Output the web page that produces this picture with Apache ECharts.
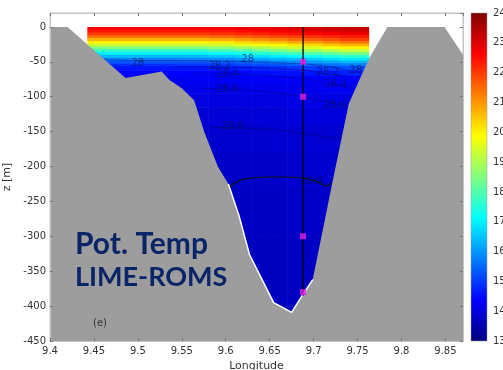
<!DOCTYPE html>
<html>
<head>
<meta charset="utf-8">
<script src="https://cdn.jsdelivr.net/npm/echarts@6/dist/echarts.min.js"></script>
<style>
  html, body { margin: 0; padding: 0; background: #fff; }
  #chart { width: 503px; height: 370px; }
</style>
</head>
<body>
<div id="chart"></div>
<script>
// temperature cells: column edges (longitude) and row edges (depth)
var lonEdges = [9.4425, 9.58, 9.61, 9.63, 9.65, 9.67, 9.69, 9.71, 9.73, 9.7625];
var zEdges = [0, -4, -8, -12, -16, -20, -24, -28, -32, -36, -40, -44, -48, -52, -56, -62, -70, -80, -95, -115, -140, -180, -230, -300, -420];
// pot. temperature per row (top to bottom), one value per column
var tempRows = [
  [22.7, 22.75, 22.8, 22.9, 22.95, 23.05, 23.1, 23.2, 23.3],
  [22.4, 22.45, 22.55, 22.6, 22.7, 22.8, 22.9, 23.0, 23.05],
  [22.0, 22.05, 22.15, 22.25, 22.35, 22.45, 22.55, 22.65, 22.75],
  [21.4, 21.5, 21.6, 21.7, 21.85, 21.95, 22.1, 22.2, 22.35],
  [20.7, 20.8, 20.95, 21.1, 21.25, 21.45, 21.6, 21.75, 21.95],
  [20.0, 20.1, 20.3, 20.45, 20.6, 20.8, 20.95, 21.15, 21.35],
  [19.3, 19.4, 19.6, 19.75, 19.9, 20.1, 20.25, 20.45, 20.65],
  [18.5, 18.6, 18.8, 19.0, 19.15, 19.35, 19.5, 19.75, 19.95],
  [17.7, 17.85, 18.0, 18.2, 18.4, 18.6, 18.8, 19.0, 19.25],
  [17.0, 17.1, 17.3, 17.5, 17.65, 17.85, 18.0, 18.25, 18.45],
  [16.4, 16.5, 16.65, 16.8, 16.95, 17.1, 17.3, 17.45, 17.65],
  [15.8, 15.9, 16.05, 16.2, 16.35, 16.45, 16.6, 16.8, 16.95],
  [15.3, 15.4, 15.5, 15.65, 15.8, 15.9, 16.05, 16.2, 16.35],
  [14.9, 15.0, 15.1, 15.2, 15.3, 15.4, 15.5, 15.65, 15.75],
  [14.6, 14.65, 14.7, 14.8, 14.85, 14.95, 15.0, 15.1, 15.2],
  [14.4, 14.4, 14.45, 14.5, 14.55, 14.55, 14.6, 14.65, 14.7],
  [14.25, 14.25, 14.3, 14.3, 14.3, 14.35, 14.35, 14.35, 14.4],
  [14.15, 14.15, 14.15, 14.2, 14.2, 14.2, 14.2, 14.25, 14.25],
  [14.05, 14.05, 14.05, 14.05, 14.05, 14.1, 14.1, 14.1, 14.1],
  [13.95, 13.95, 13.95, 13.95, 13.95, 14.0, 14.0, 14.0, 14.0],
  [13.85, 13.85, 13.85, 13.85, 13.9, 13.9, 13.9, 13.9, 13.9],
  [13.8, 13.8, 13.8, 13.8, 13.8, 13.85, 13.85, 13.85, 13.85],
  [13.75, 13.75, 13.75, 13.75, 13.75, 13.8, 13.8, 13.8, 13.8],
  [13.7, 13.7, 13.7, 13.7, 13.7, 13.75, 13.75, 13.75, 13.75]
];

// bathymetry
var bathyLon = [9.4, 9.42, 9.486, 9.527, 9.536, 9.55, 9.564, 9.576, 9.591, 9.603, 9.615, 9.627, 9.6545, 9.675, 9.6875, 9.699, 9.722, 9.74, 9.752, 9.764, 9.784, 9.849, 9.87];
var bathyZ = [0, 0, -73, -64, -76, -88, -105, -152, -200, -225, -270, -326, -395, -409, -384, -362, -219, -110, -76, -43, 0, 0, -40];
// white rim along the deep part of the trough
var rimLon = [9.603, 9.615, 9.627, 9.6545, 9.675, 9.6875, 9.699];
var rimZ = [-225, -270, -326, -395, -409, -384, -362];

// density contours
var c28 = [[9.45, -46], [9.5, -48], [9.55, -48], [9.6, -49], [9.65, -51], [9.69, -53], [9.72, -57], [9.745, -63], [9.757, -58]];
var c282 = [[9.54, -57], [9.58, -57], [9.62, -58], [9.66, -60], [9.69, -62], [9.72, -68], [9.745, -72]];
var c284 = [[9.56, -67], [9.6, -67], [9.64, -69], [9.68, -73], [9.71, -79], [9.735, -86], [9.745, -88]];
var c286 = [[9.575, -88], [9.6, -89], [9.64, -92], [9.68, -98], [9.71, -106], [9.74, -114]];
var c288 = [[9.585, -144], [9.62, -145], [9.66, -148], [9.7, -155], [9.73, -160]];
var c289 = [[9.603, -232], [9.612, -222], [9.625, -217], [9.66, -215], [9.69, -217], [9.705, -222], [9.714, -228], [9.72, -224]];
var contourLabels = [
  [9.5, -52, '28'], [9.625, -46, '28'], [9.593, -56, '28.2'], [9.602, -68, '28.4'],
  [9.602, -90, '28.6'], [9.608, -143, '28.8'], [9.716, -65, '28.2'], [9.748, -62, '28'],
  [9.725, -83, '28.4'], [9.724, -112, '28.6'], [9.698, -222, '28.9']
];

// station
var stationLon = 9.688;
var stationBottom = -385;
var stationDepths = [-50, -100, -300, -380];

var tempMin = 13, tempMax = 24;
var jet = ['#00007f', '#0000ff', '#007fff', '#00ffff', '#7fff7f', '#ffff00', '#ff7f00', '#ff0000', '#7f0000'];

var cells = [];
for (var r = 0; r < tempRows.length; r++) {
  for (var c = 0; c < tempRows[r].length; c++) {
    cells.push([(lonEdges[c] + lonEdges[c + 1]) / 2, (zEdges[r] + zEdges[r + 1]) / 2, tempRows[r][c], c, r]);
  }
}

var chart = echarts.init(document.getElementById('chart'));
var font = 'DejaVu Sans';
var tickColor = '#777';
var frameColor = '#c4c4c4';

var mainAxisX = {
  type: 'value', gridIndex: 0, min: 9.4, max: 9.87, interval: 0.05, z: 5,
  axisLine: { show: true, onZero: false, lineStyle: { color: frameColor } },
  axisTick: { inside: true, length: 3, lineStyle: { color: tickColor } },
  splitLine: { show: false }
};

chart.setOption({
  animation: false,
  grid: [
    { left: 50, right: 40, top: 13, bottom: 29, show: true, borderColor: frameColor, borderWidth: 1, outerBoundsMode: 'none' },
    { left: 471, width: 16, top: 13, bottom: 29, outerBoundsMode: 'none' }
  ],
  xAxis: [
    Object.assign({}, mainAxisX, {
      name: 'Longitude', nameLocation: 'middle', nameGap: 15,
      nameTextStyle: { fontFamily: font, fontSize: 11, color: '#333' },
      axisLabel: { fontFamily: font, fontSize: 10, color: '#333', margin: 5, showMaxLabel: false }
    }),
    Object.assign({}, mainAxisX, { position: 'top', axisLabel: { show: false } }),
    { type: 'value', gridIndex: 1, min: 0, max: 1, show: false }
  ],
  yAxis: [
    {
      type: 'value', gridIndex: 0, min: -450, max: 20, interval: 50, z: 5,
      name: 'z [m]', nameLocation: 'middle', nameGap: 33,
      nameTextStyle: { fontFamily: font, fontSize: 11, color: '#333' },
      axisLine: { show: true, onZero: false, lineStyle: { color: frameColor } },
      axisTick: { inside: true, length: 3, lineStyle: { color: tickColor } },
      axisLabel: { fontFamily: font, fontSize: 10, color: '#333', margin: 4, showMaxLabel: false },
      splitLine: { show: false }
    },
    {
      type: 'value', gridIndex: 0, min: -450, max: 20, interval: 50, z: 5, position: 'right',
      axisLine: { show: true, onZero: false, lineStyle: { color: frameColor } },
      axisTick: { inside: true, length: 3, lineStyle: { color: tickColor } },
      axisLabel: { show: false },
      splitLine: { show: false }
    },
    {
      type: 'value', gridIndex: 1, min: tempMin, max: tempMax, interval: 1, position: 'right',
      axisLine: { show: false },
      axisTick: { show: false },
      axisLabel: { fontFamily: font, fontSize: 10, color: '#333', margin: 6 },
      splitLine: { show: false }
    }
  ],
  visualMap: {
    type: 'continuous', show: false, seriesIndex: 0, dimension: 2,
    min: tempMin, max: tempMax, inRange: { color: jet }
  },
  graphic: [
    { type: 'text', left: 75, top: 229, z: 100,
      style: { text: 'Pot. Temp', font: 'bold 30px Lato', fill: '#0a2468' } },
    { type: 'text', left: 75, top: 264, z: 100,
      style: { text: 'LIME-ROMS', font: 'bold 27px Lato', fill: '#0a2468' } },
    { type: 'text', left: 93, top: 318, z: 100,
      style: { text: '(e)', font: '10px DejaVu Sans', fill: '#333' } }
  ],
  series: [
    {
      type: 'custom', xAxisIndex: 0, yAxisIndex: 0, z: 1, clip: true,
      data: cells,
      encode: { x: 0, y: 1 },
      renderItem: function (params, api) {
        var c = api.value(3), r = api.value(4);
        var p0 = api.coord([lonEdges[c], zEdges[r]]);
        var p1 = api.coord([lonEdges[c + 1], zEdges[r + 1]]);
        return {
          type: 'rect',
          shape: { x: p0[0], y: p0[1], width: p1[0] - p0[0] + 0.6, height: p1[1] - p0[1] + 0.6 },
          style: { fill: api.visual('color') }
        };
      }
    },
    {
      type: 'line', xAxisIndex: 0, yAxisIndex: 0, z: 3, symbol: 'none',
      data: bathyLon.map(function (x, i) { return [x, bathyZ[i]]; }),
      lineStyle: { width: 0 },
      areaStyle: { color: '#9d9d9d', opacity: 1, origin: 'start' }
    },
    {
      type: 'line', xAxisIndex: 0, yAxisIndex: 0, z: 4, symbol: 'none',
      data: rimLon.map(function (x, i) { return [x, rimZ[i]]; }),
      lineStyle: { color: '#fff', width: 1.5 }
    }
  ].concat([c28, c282, c284, c286, c288].map(function (d) {
    return {
      type: 'line', xAxisIndex: 0, yAxisIndex: 0, z: 2, symbol: 'none', smooth: 0.3,
      data: d, lineStyle: { color: 'rgba(0,0,70,0.45)', width: 0.8 }
    };
  })).concat([
    {
      type: 'line', xAxisIndex: 0, yAxisIndex: 0, z: 2, symbol: 'none', smooth: 0.3,
      data: c289, lineStyle: { color: '#111', width: 1.2 }
    },
    {
      type: 'scatter', xAxisIndex: 0, yAxisIndex: 0, z: 2, symbolSize: 0,
      data: contourLabels,
      label: {
        show: true, position: 'inside', formatter: function (p) { return p.data[2]; },
        fontFamily: font, fontSize: 10, color: 'rgba(10,15,70,0.8)'
      }
    },
    {
      type: 'line', xAxisIndex: 0, yAxisIndex: 0, z: 5, symbol: 'none',
      data: [[stationLon, 0], [stationLon, stationBottom]],
      lineStyle: { color: '#000', width: 1.3 }
    },
    {
      type: 'scatter', xAxisIndex: 0, yAxisIndex: 0, z: 6, symbol: 'rect', symbolSize: 6,
      data: stationDepths.map(function (d) { return [stationLon, d]; }),
      itemStyle: { color: '#e81ee8' }
    },
    {
      type: 'custom', xAxisIndex: 2, yAxisIndex: 2, z: 1,
      data: [[0, tempMin, 1, tempMax]],
      renderItem: function (params, api) {
        var p0 = api.coord([api.value(0), api.value(3)]);
        var p1 = api.coord([api.value(2), api.value(1)]);
        return {
          type: 'rect',
          shape: { x: p0[0], y: p0[1], width: p1[0] - p0[0], height: p1[1] - p0[1] },
          style: {
            fill: new echarts.graphic.LinearGradient(0, 1, 0, 0, jet.map(function (col, i) {
              return { offset: i / (jet.length - 1), color: col };
            })),
            stroke: '#999', lineWidth: 0.5
          }
        };
      }
    }
  ])
});
</script>
</body>
</html>
